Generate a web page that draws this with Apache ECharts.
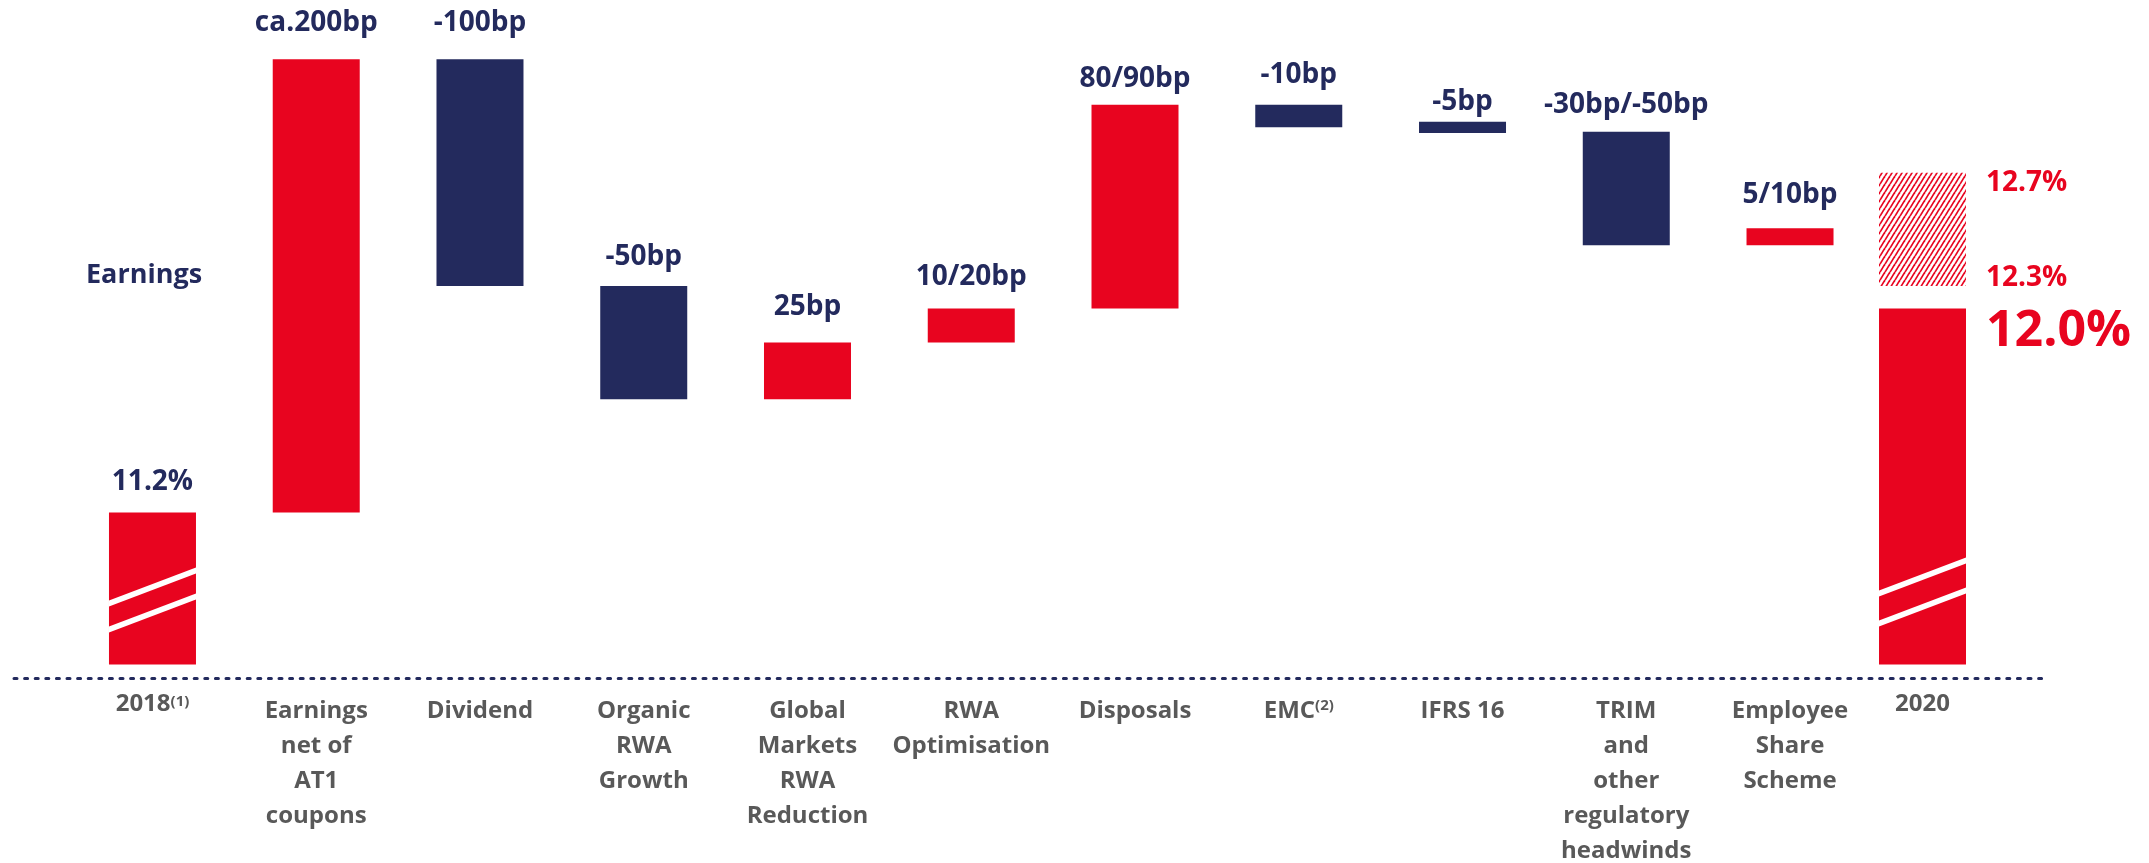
<!DOCTYPE html>
<html>
<head>
<meta charset="utf-8">
<script src="https://cdn.jsdelivr.net/npm/echarts@6/dist/echarts.min.js"></script>
<style>
  html, body { margin: 0; padding: 0; background: #ffffff; }
  #chart { width: 2149px; height: 863px; }
</style>
</head>
<body>
<div id="chart"></div>
<script>
// ---------------- data ----------------
const categories = ['2018', 'Earnings\nnet of\nAT1\ncoupons', 'Dividend', 'Organic\nRWA\nGrowth',
  'Global\nMarkets\nRWA\nReduction', 'RWA\nOptimisation', 'Disposals', 'EMC', 'IFRS 16',
  'TRIM\nand\nother\nregulatory\nheadwinds', 'Employee\nShare\nScheme'];
const footnotes = ['(1)', '', '', '', '', '', '', '(2)', '', '', ''];
const barLow  = [10.53, 11.2, 12.2, 11.7, 11.7, 11.95, 12.1, 12.9, 12.875, 12.38, 12.38];
const barHigh = [11.2, 13.2, 13.2, 12.2, 11.95, 12.1, 13.0, 13.0, 12.925, 12.88, 12.455];
const barKind = ['total', 'up', 'down', 'down', 'up', 'up', 'up', 'down', 'down', 'down', 'up'];
const valueLabels = ['11.2%', 'ca.200bp', '-100bp', '-50bp', '25bp', '10/20bp', '80/90bp',
  '-10bp', '-5bp', '-30bp/-50bp', '5/10bp'];

const endCategory = '2020';
const endBase = 10.53;
const endValue = 12.1;
const targetLow = 12.2;
const targetHigh = 12.7;
const endLabels = ['12.7%', '12.3%', '12.0%'];

// ---------------- style ----------------
const RED = '#E8041F';
const NAVY = '#232A5D';
const GREY = '#595959';
const FONT = '"Open Sans", "Noto Sans", sans-serif';
const BAR_W = 87;
const Y_MIN = 10.47, Y_MAX = 13.4;
const labelLift = [31, 36, 36, 29, 36, 32, 26, 30, 20, 27, 33];
const kindColor = { total: RED, up: RED, down: NAVY };
const SLASH_START = [32, 58];
const SLASH_END = [38, 68];
const SLASH_RISE = 33, SLASH_T = 6;

function slashes(x0, yb, offs) {
  return offs.map(o => ({
    type: 'polygon',
    shape: { points: [[x0, yb - o], [x0 + BAR_W, yb - o - SLASH_RISE],
                      [x0 + BAR_W, yb - o - SLASH_RISE - SLASH_T], [x0, yb - o - SLASH_T]] },
    style: { fill: '#ffffff' }
  }));
}

// hatch pattern
const pat = document.createElement('canvas');
const PW = 5, PH = 8;
pat.width = PW; pat.height = PH;
(function () {
  const c = pat.getContext('2d');
  c.strokeStyle = RED; c.lineWidth = 1.7;
  for (const off of [-PW, 0, PW]) {
    c.beginPath(); c.moveTo(off, PH); c.lineTo(off + PW, 0); c.stroke();
  }
})();

const chart = echarts.init(document.getElementById('chart'));

function renderStep(params, api) {
  const i = api.value(3);
  const hi = api.coord([api.value(0), api.value(2)]);
  const lo = api.coord([api.value(0), api.value(1)]);
  const x0 = hi[0] - BAR_W / 2;
  const children = [{
    type: 'rect',
    shape: { x: x0, y: hi[1], width: BAR_W, height: lo[1] - hi[1] },
    style: { fill: kindColor[barKind[i]] }
  }];
  if (barKind[i] === 'total') children.push(...slashes(x0, lo[1], SLASH_START));
  children.push({
    type: 'text',
    style: { text: valueLabels[i], x: hi[0], y: hi[1] - labelLift[i], align: 'center',
             verticalAlign: 'middle', fill: NAVY, fontSize: 28, fontWeight: 'bold', fontFamily: FONT }
  });
  return { type: 'group', children };
}

function renderEnd(params, api) {
  const x = api.value(0);
  const base = api.coord([x, api.value(1)]);
  const top = api.coord([x, api.value(2)]);
  const tLo = api.coord([x, api.value(3)]);
  const tHi = api.coord([x, api.value(4)]);
  const x0 = top[0] - BAR_W / 2;
  const lx = x0 + BAR_W + 20;
  const children = [
    { type: 'rect', shape: { x: x0, y: tHi[1], width: BAR_W, height: tLo[1] - tHi[1] },
      style: { fill: { image: pat, repeat: 'repeat' } } },
    { type: 'rect', shape: { x: x0, y: top[1], width: BAR_W, height: base[1] - top[1] },
      style: { fill: RED } },
    ...slashes(x0, base[1], SLASH_END),
    { type: 'text', style: { text: endLabels[0], x: lx, y: tHi[1] - 4, align: 'left', verticalAlign: 'top',
      fill: RED, fontSize: 28, fontWeight: 'bold', fontFamily: FONT } },
    { type: 'text', style: { text: endLabels[1], x: lx, y: tLo[1] + 6, align: 'left', verticalAlign: 'bottom',
      fill: RED, fontSize: 28, fontWeight: 'bold', fontFamily: FONT } },
    { type: 'text', style: { text: endLabels[2], x: lx, y: top[1] - 2, align: 'left', verticalAlign: 'top',
      fill: RED, fontSize: 50, fontWeight: 'bold', fontFamily: FONT } }
  ];
  return { type: 'group', children };
}

const labelBase = { fontFamily: FONT, fontWeight: 'bold', fontSize: 24, color: GREY };

const option = {
  animation: false,
  backgroundColor: '#ffffff',
  grid: [
    { left: 70.6, right: 277.1, top: 14, bottom: 185, outerBoundsMode: 'none', containLabel: false },
    { left: 1871.9, right: 175.9, top: 14, bottom: 185, outerBoundsMode: 'none', containLabel: false },
    { left: 14, right: 104, top: 14, bottom: 185, outerBoundsMode: 'none', containLabel: false }
  ],
  xAxis: [
    { type: 'category', gridIndex: 0, data: categories,
      axisLine: { show: false }, axisTick: { show: false },
      axisLabel: Object.assign({}, labelBase, {
        interval: 0, hideOverlap: false, margin: 16, lineHeight: 35,
        formatter: (v, idx) => {
          if (idx === 0) return '{hi|' + v + '}{sup|' + footnotes[idx] + '}';
          if (footnotes[idx]) return '{n|' + v + '}{sup2|' + footnotes[idx] + '}';
          return v;
        },
        rich: {
          hi: Object.assign({}, labelBase, { lineHeight: 21 }),
          n: Object.assign({}, labelBase, { lineHeight: 35 }),
          sup: Object.assign({}, labelBase, { fontSize: 15, lineHeight: 10, verticalAlign: 'top' }),
          sup2: Object.assign({}, labelBase, { fontSize: 15, lineHeight: 10, verticalAlign: 'top', padding: [4, 0, 0, 0] })
        }
      }) },
    { type: 'category', gridIndex: 1, data: [endCategory],
      axisLine: { show: false }, axisTick: { show: false },
      axisLabel: Object.assign({}, labelBase, { margin: 16, lineHeight: 21 }) },
    { type: 'value', gridIndex: 2, min: 0, max: 1, splitLine: { show: false },
      axisTick: { show: false }, axisLabel: { show: false },
      axisLine: { show: true, onZero: false, lineStyle: { color: NAVY, width: 3, type: [3, 7.6] } } }
  ],
  yAxis: [0, 1, 2].map(g => ({ type: 'value', gridIndex: g, min: Y_MIN, max: Y_MAX, show: false })),
  graphic: [{
    type: 'text', left: 86, top: 262,
    style: { text: 'Earnings', fill: NAVY, fontSize: 27, fontWeight: 'bold', fontFamily: FONT }
  }],
  series: [
    { type: 'custom', xAxisIndex: 0, yAxisIndex: 0, renderItem: renderStep,
      data: categories.map((c, i) => [i, barLow[i], barHigh[i], i]) },
    { type: 'custom', xAxisIndex: 1, yAxisIndex: 1, renderItem: renderEnd,
      data: [[0, endBase, endValue, targetLow, targetHigh]] }
  ]
};
chart.setOption(option);
</script>
</body>
</html>
